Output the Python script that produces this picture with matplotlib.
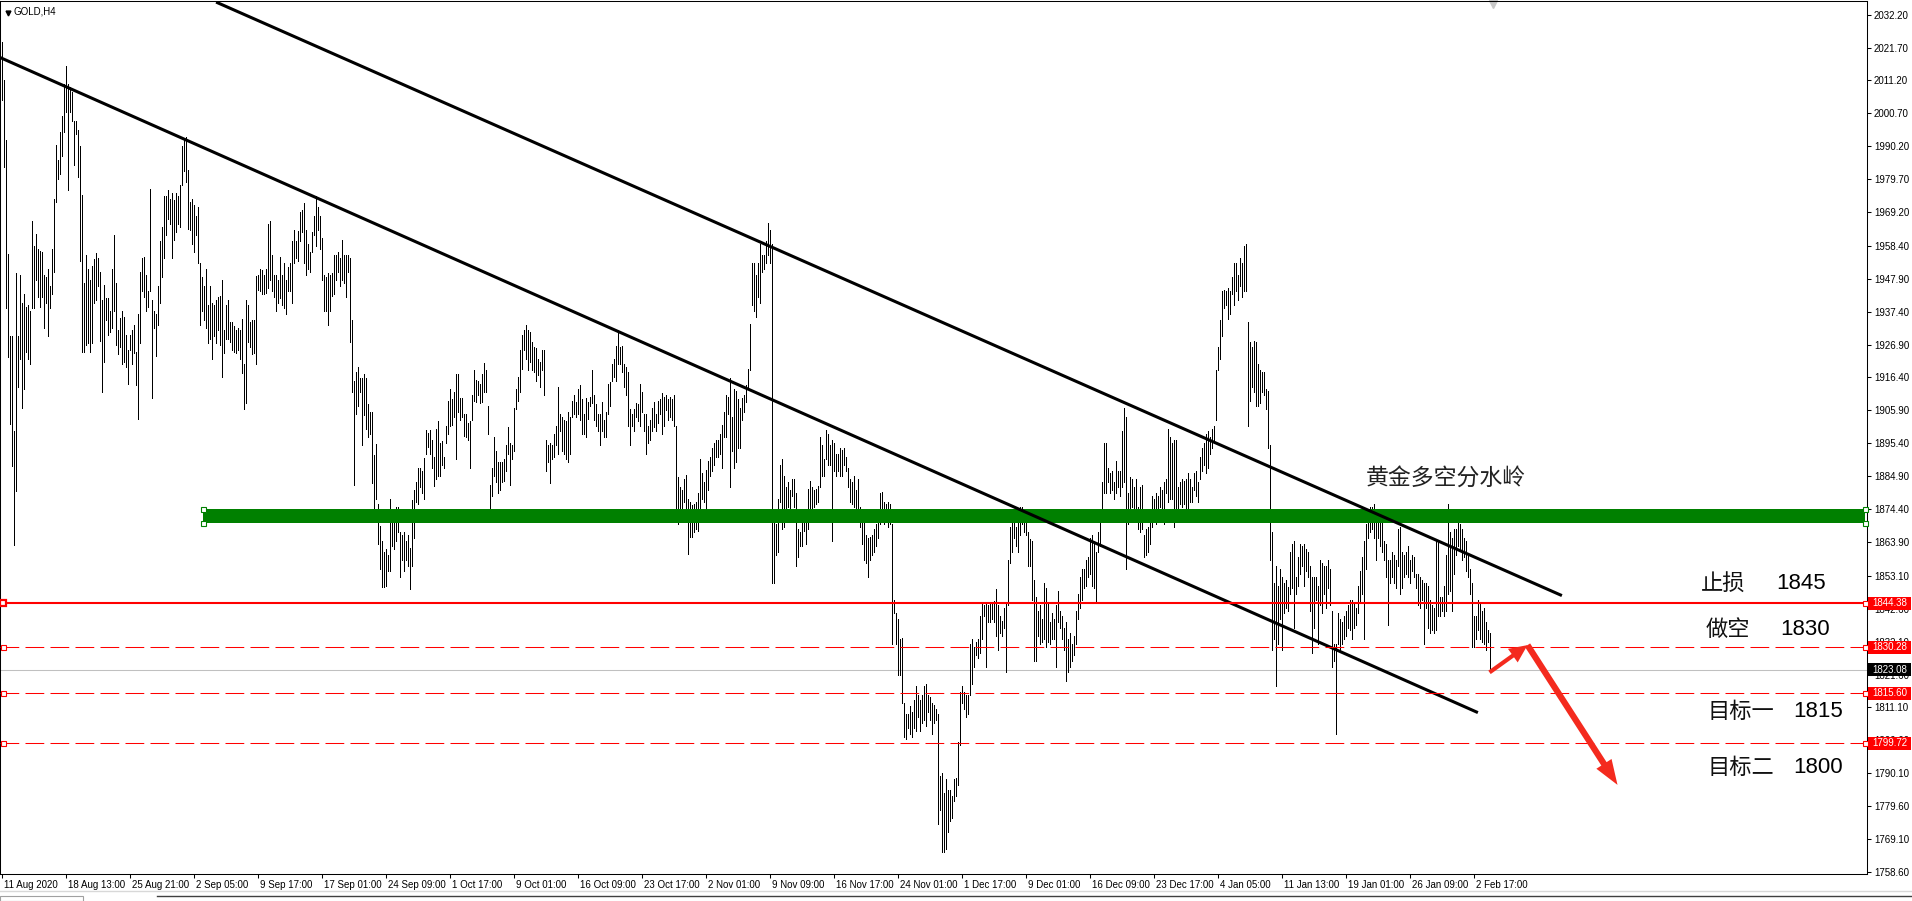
import matplotlib
matplotlib.use("Agg")
import matplotlib.pyplot as plt
import matplotlib.transforms as mtransforms
from matplotlib.patches import Rectangle, FancyArrowPatch
from matplotlib.lines import Line2D

# GOLD H4 bars, high / low (one entry per bar)
highs = [
    2023.5, 2011.3, 1992.2, 1955.9, 1929.6, 1929.6, 1899.2, 1949.6, 1929.6, 1949.2,
    1940.3, 1943.0, 1938.9, 1939.4, 1937.6, 1966.2, 1958.2, 1962.1, 1957.3, 1956.9,
    1956.4, 1949.2, 1948.4, 1951.0, 1945.7, 1957.3, 1973.4, 1990.7, 1985.9, 1994.8,
    1999.7, 2010.0, 2015.8, 2010.0, 2009.1, 2007.4, 1998.4, 1998.4, 1995.4, 1990.4,
    1974.6, 1946.6, 1955.5, 1951.0, 1947.5, 1951.9, 1954.3, 1956.0, 1954.6, 1950.1,
    1941.2, 1946.0, 1941.7, 1941.7, 1937.6, 1951.0, 1961.8, 1946.6, 1931.4, 1935.3,
    1937.6, 1935.8, 1929.9, 1925.1, 1929.9, 1931.4, 1933.2, 1924.6, 1936.7, 1950.1,
    1954.6, 1955.0, 1949.2, 1943.9, 1976.4, 1941.2, 1937.6, 1936.7, 1945.7, 1960.0,
    1964.4, 1974.3, 1974.3, 1976.1, 1973.4, 1975.2, 1972.9, 1975.2, 1974.3, 1977.9,
    1990.4, 1992.2, 1993.1, 1982.7, 1972.5, 1973.4, 1971.6, 1968.0, 1970.7, 1952.8,
    1948.4, 1945.7, 1951.0, 1939.4, 1945.7, 1940.3, 1939.4, 1941.2, 1942.1, 1942.5,
    1947.5, 1931.4, 1939.4, 1941.2, 1934.1, 1934.1, 1932.8, 1931.4, 1932.3, 1931.4,
    1935.0, 1920.6, 1941.2, 1939.4, 1934.1, 1934.6, 1934.6, 1948.9, 1949.2, 1951.0,
    1950.7, 1949.2, 1951.0, 1965.3, 1966.2, 1955.5, 1949.2, 1949.2, 1947.5, 1955.0,
    1949.2, 1952.8, 1947.5, 1951.8, 1952.8, 1960.0, 1963.5, 1960.0, 1963.2, 1969.3,
    1969.8, 1972.1, 1963.5, 1959.1, 1956.4, 1962.7, 1968.0, 1974.3, 1970.7, 1968.0,
    1960.9, 1949.2, 1948.4, 1949.6, 1949.2, 1949.6, 1955.5, 1955.5, 1956.4, 1954.6,
    1960.3, 1955.5, 1955.5, 1955.5, 1954.6, 1934.6, 1915.3, 1918.0, 1919.7, 1916.2,
    1916.2, 1917.4, 1916.2, 1907.8, 1905.5, 1905.5, 1891.7, 1895.3, 1875.9, 1869.1,
    1864.3, 1860.8, 1861.7, 1859.9, 1877.7,
    1874.2, 1874.5, 1875.1, 1875.1, 1867.0, 1866.1, 1867.0, 1864.3, 1866.1, 1862.0,
    1877.2, 1880.4, 1883.1, 1887.6, 1887.6, 1886.7, 1890.6, 1899.6, 1898.8, 1899.6,
    1896.5, 1891.1, 1900.1, 1902.4, 1895.6, 1896.2, 1891.1, 1901.0, 1909.0, 1912.6,
    1909.6, 1911.7, 1917.4, 1917.4, 1909.9, 1909.9, 1904.9, 1904.9, 1901.9, 1902.4,
    1910.8, 1918.9, 1915.6, 1915.3, 1914.4, 1917.4, 1921.0, 1918.9, 1907.2, 1882.2,
    1887.6, 1897.4, 1892.9, 1889.4, 1889.4, 1889.4, 1890.3, 1894.7, 1900.6, 1895.6,
    1894.7, 1906.7, 1912.6, 1916.7, 1925.1, 1929.9, 1931.4, 1933.2, 1931.7, 1931.0,
    1927.8, 1926.0, 1925.7, 1922.4, 1921.5, 1925.1, 1925.1, 1896.5, 1894.7, 1895.6,
    1894.7, 1898.3, 1901.0, 1913.5, 1904.6, 1903.7, 1902.8, 1902.4, 1905.5, 1903.7,
    1909.0, 1910.8, 1908.5, 1912.6, 1913.9, 1909.6, 1904.6, 1909.9, 1908.5, 1910.3,
    1918.9, 1910.8, 1907.8, 1904.9, 1904.6, 1908.5, 1902.8, 1905.5, 1914.4, 1914.9,
    1920.6, 1922.4, 1926.4, 1931.7, 1926.0, 1926.4, 1920.6, 1919.7, 1918.0, 1906.3,
    1904.6, 1906.3, 1908.1, 1907.8, 1914.4, 1911.7, 1904.9, 1904.6, 1901.0, 1902.8,
    1906.7, 1908.5, 1904.6, 1909.0, 1909.6, 1911.3, 1910.3, 1910.8, 1909.6, 1910.3,
    1909.6, 1910.8, 1901.0, 1884.5, 1881.3, 1880.4, 1884.0, 1885.2, 1877.7, 1876.8,
    1875.6, 1875.9, 1876.8, 1879.5, 1890.3, 1885.8, 1883.1, 1887.0, 1889.9, 1891.1,
    1893.8, 1895.6, 1896.5, 1896.5, 1898.3, 1901.3, 1905.5, 1910.8, 1910.3, 1916.2,
    1903.7, 1912.6, 1912.1, 1909.6, 1906.7, 1909.9, 1910.8, 1913.9, 1919.2, 1933.5,
    1952.8, 1952.8, 1949.2, 1952.8, 1959.1, 1955.5, 1955.5, 1960.0, 1965.7, 1963.5,
    1959.1, 1870.6, 1869.7, 1877.7, 1888.5, 1890.3, 1884.9, 1881.3, 1883.1, 1880.4,
    1884.0, 1884.0, 1879.5, 1867.9, 1867.0, 1871.5, 1872.7, 1873.8, 1880.9, 1883.5,
    1881.3, 1880.4, 1880.9, 1881.7, 1897.4, 1894.7, 1890.3, 1899.6, 1898.3, 1894.7,
    1896.5, 1895.6, 1892.0, 1892.0, 1893.8, 1893.4, 1893.8, 1891.1, 1887.6, 1884.0,
    1883.1, 1884.9, 1880.4, 1884.0, 1875.1, 1870.6, 1870.6, 1866.1, 1865.2, 1865.6,
    1866.1, 1867.9, 1869.7, 1870.2, 1879.5, 1879.9, 1876.8, 1875.9, 1876.8, 1875.9,
    1869.7, 1845.5, 1841.1, 1839.3, 1833.0, 1833.4, 1812.5, 1808.9, 1808.9, 1811.6,
    1809.8, 1813.4, 1817.8, 1815.2, 1813.4, 1815.2, 1817.8, 1818.7, 1815.2, 1814.3,
    1812.5, 1812.0, 1810.7, 1808.9, 1789.2, 1790.1, 1783.8, 1788.3, 1784.7, 1784.7,
    1783.0, 1788.3, 1788.7, 1800.0, 1816.1, 1817.8, 1816.1, 1815.2, 1815.2, 1831.3,
    1833.0, 1830.4, 1832.1, 1833.0, 1840.2, 1844.7, 1843.8, 1844.7, 1843.8, 1844.7,
    1844.7, 1845.2, 1848.8, 1843.8, 1840.2, 1838.8, 1842.9, 1844.7, 1858.1, 1868.8,
    1871.5, 1872.4, 1868.8, 1871.5, 1875.1, 1875.1, 1874.2, 1873.3, 1867.0, 1864.9,
    1864.3, 1851.8, 1846.4, 1841.9, 1843.8, 1839.3, 1850.9, 1849.1, 1844.7, 1838.4,
    1841.1, 1839.3, 1843.8, 1848.2, 1841.9, 1840.2, 1836.6, 1838.4, 1833.0, 1834.8,
    1831.3, 1833.9, 1841.9, 1847.3, 1852.7, 1855.4, 1855.4, 1858.1, 1859.0, 1865.2,
    1866.1, 1864.3, 1860.8, 1867.0, 1870.6, 1883.1, 1895.6, 1895.6, 1887.6, 1885.8,
    1886.7, 1883.1, 1889.9, 1886.7, 1886.7, 1899.2, 1906.7, 1903.7, 1879.5, 1884.5,
    1884.0, 1881.3, 1884.0, 1875.1, 1881.3, 1882.2, 1866.1, 1867.9, 1868.8, 1873.3,
    1878.6, 1877.7, 1879.5, 1878.6, 1881.3, 1880.4, 1883.1, 1884.0, 1900.1, 1897.4,
    1895.6, 1896.5, 1896.5, 1881.3, 1883.1, 1884.0, 1883.5, 1884.0, 1885.8, 1884.0,
    1881.3, 1885.8, 1886.7, 1883.1, 1891.1, 1893.8, 1895.6, 1898.3, 1899.2, 1897.4,
    1900.1, 1901.0, 1918.9, 1926.0, 1934.9, 1943.9, 1944.3, 1943.9, 1944.8, 1943.9,
    1948.4, 1952.8, 1952.8, 1949.2, 1954.6, 1952.8, 1958.2, 1959.1, 1934.1, 1927.8,
    1926.0, 1928.2, 1927.8, 1920.6, 1918.9, 1918.0, 1918.0, 1912.6, 1912.1, 1894.7,
    1867.0, 1850.9, 1856.3, 1850.0, 1855.4, 1852.7, 1850.9, 1851.8, 1849.5, 1860.8,
    1863.4, 1864.3, 1852.7, 1859.0, 1863.4, 1862.5, 1863.4, 1861.7, 1860.8, 1856.3,
    1852.7, 1852.7, 1852.7, 1850.0, 1858.1, 1857.2, 1856.3, 1856.3, 1858.1, 1855.4,
    1841.9, 1831.3, 1831.3, 1841.1, 1839.3, 1838.4, 1840.2, 1841.9, 1843.8, 1845.5,
    1845.5, 1844.7, 1842.9, 1850.0, 1854.5, 1859.0, 1864.3, 1869.7, 1873.3, 1875.1,
    1875.1, 1876.0, 1874.2, 1873.3, 1873.3, 1870.6, 1864.3, 1863.4, 1858.1, 1858.1,
    1860.8, 1859.9, 1858.1, 1867.9, 1868.8, 1860.8, 1859.9, 1860.8, 1862.5, 1858.1,
    1859.9, 1859.0, 1853.6, 1853.6, 1852.7, 1851.8, 1850.9, 1850.9, 1850.0, 1845.5,
    1843.8, 1842.9, 1864.3, 1864.3, 1846.4, 1846.4, 1850.0, 1859.9, 1876.0, 1867.0,
    1865.2, 1867.9, 1867.9, 1872.4, 1869.7, 1867.9, 1865.2, 1864.3, 1859.9, 1855.4,
    1850.9, 1840.2, 1840.2, 1845.5, 1844.7, 1841.9, 1842.9, 1838.4, 1835.7, 1834.8,
]
lows = [
    2005.0, 1983.6, 1938.5, 1922.8, 1901.5, 1888.1, 1862.9, 1880.1, 1913.5, 1922.4,
    1906.7, 1912.6, 1924.6, 1922.4, 1920.6, 1938.5, 1938.5, 1947.5, 1942.1, 1938.9,
    1942.1, 1932.3, 1940.3, 1929.6, 1938.5, 1943.0, 1950.1, 1972.5, 1979.6, 1981.4,
    1987.2, 1994.8, 2001.1, 1976.1, 2001.1, 1998.4, 1984.1, 1994.0, 1980.5, 1953.7,
    1924.6, 1924.6, 1926.9, 1927.4, 1924.6, 1927.4, 1940.3, 1941.2, 1945.7, 1928.1,
    1911.7, 1921.5, 1934.9, 1929.9, 1931.0, 1932.3, 1937.6, 1926.9, 1923.9, 1926.0,
    1920.6, 1921.5, 1919.7, 1914.4, 1925.1, 1920.6, 1924.2, 1913.9, 1903.1, 1927.4,
    1943.9, 1942.1, 1937.6, 1938.9, 1943.9, 1909.9, 1932.3, 1923.3, 1933.2, 1940.3,
    1948.4, 1954.6, 1961.8, 1967.1, 1965.3, 1954.6, 1960.3, 1962.7, 1965.3, 1964.4,
    1977.9, 1982.3, 1978.8, 1963.9, 1963.5, 1959.1, 1956.4, 1961.8, 1952.8, 1933.2,
    1937.6, 1934.9, 1932.3, 1927.4, 1928.7, 1922.4, 1929.6, 1927.4, 1931.4, 1926.9,
    1916.7, 1924.2, 1928.7, 1928.7, 1927.8, 1925.1, 1924.6, 1924.2, 1925.1, 1922.4,
    1917.9, 1906.3, 1908.1, 1927.8, 1926.0, 1923.9, 1924.2, 1920.6, 1944.3, 1943.9,
    1943.0, 1943.0, 1943.5, 1944.8, 1947.5, 1943.9, 1942.1, 1937.6, 1940.3, 1941.7,
    1939.4, 1938.5, 1936.7, 1943.9, 1943.9, 1940.3, 1952.8, 1954.6, 1953.7, 1960.0,
    1962.7, 1952.8, 1949.2, 1951.0, 1950.1, 1956.4, 1961.8, 1958.2, 1963.5, 1957.3,
    1947.5, 1937.6, 1937.6, 1933.2, 1937.6, 1942.5, 1943.0, 1947.5, 1950.1, 1945.7,
    1947.5, 1946.6, 1942.1, 1950.1, 1927.8, 1911.7, 1882.2, 1904.9, 1907.2, 1911.7,
    1894.7, 1904.5, 1900.1, 1897.4, 1898.3, 1882.7, 1873.8, 1877.7, 1863.4, 1855.4,
    1849.5, 1849.5, 1850.0, 1854.5, 1854.5,
    1862.5, 1861.6, 1864.3, 1867.0, 1852.7, 1858.1, 1854.5, 1858.1, 1856.3, 1848.8,
    1856.3, 1865.2, 1876.8, 1875.9, 1881.3, 1879.5, 1877.7, 1892.0, 1894.2, 1892.0,
    1887.6, 1881.7, 1884.0, 1884.9, 1884.9, 1888.5, 1887.6, 1895.6, 1898.3, 1901.0,
    1901.3, 1903.7, 1890.3, 1905.5, 1902.8, 1903.7, 1897.8, 1897.4, 1896.5, 1887.6,
    1902.8, 1909.0, 1908.5, 1910.8, 1908.1, 1908.5, 1911.7, 1911.7, 1898.3, 1873.3,
    1878.6, 1884.9, 1883.1, 1879.5, 1880.4, 1883.1, 1883.5, 1886.7, 1892.0, 1882.2,
    1890.3, 1892.9, 1906.3, 1909.0, 1911.7, 1919.2, 1925.1, 1922.4, 1918.9, 1921.5,
    1918.9, 1918.0, 1915.3, 1917.1, 1913.5, 1918.9, 1910.8, 1886.7, 1889.4, 1882.7,
    1890.3, 1891.1, 1894.7, 1892.0, 1899.2, 1892.9, 1892.0, 1890.3, 1889.4, 1892.0,
    1903.7, 1904.6, 1903.7, 1904.6, 1902.8, 1898.3, 1898.3, 1897.4, 1903.1, 1907.2,
    1908.1, 1902.8, 1901.0, 1899.2, 1894.7, 1899.2, 1897.4, 1897.4, 1904.6, 1907.2,
    1915.3, 1916.7, 1915.3, 1920.6, 1920.6, 1918.0, 1913.5, 1910.8, 1901.0, 1894.7,
    1901.0, 1899.2, 1903.7, 1902.4, 1901.0, 1905.5, 1899.2, 1892.0, 1895.6, 1896.5,
    1899.2, 1900.6, 1899.2, 1901.9, 1904.6, 1898.3, 1901.0, 1906.0, 1902.8, 1903.7,
    1902.8, 1901.0, 1873.3, 1869.7, 1874.2, 1874.5, 1876.8, 1874.2, 1860.2, 1865.6,
    1865.6, 1867.0, 1867.9, 1867.4, 1872.7, 1877.7, 1876.8, 1873.8, 1880.4, 1884.9,
    1886.7, 1888.5, 1891.1, 1891.1, 1892.0, 1887.6, 1897.4, 1897.4, 1904.6, 1881.3,
    1892.9, 1887.6, 1889.4, 1893.8, 1893.8, 1902.8, 1905.5, 1908.5, 1913.5, 1918.9,
    1939.4, 1937.6, 1935.8, 1942.1, 1940.3, 1950.1, 1951.0, 1952.8, 1955.5, 1952.8,
    1850.9, 1850.9, 1859.9, 1860.8, 1876.8, 1867.9, 1868.8, 1874.2, 1875.1, 1873.3,
    1878.6, 1875.1, 1856.3, 1859.0, 1862.5, 1862.5, 1867.4, 1863.4, 1867.9, 1874.2,
    1873.8, 1875.1, 1875.9, 1876.8, 1881.3, 1884.9, 1884.9, 1890.3, 1888.5, 1888.5,
    1864.3, 1886.7, 1884.9, 1886.7, 1884.9, 1884.9, 1888.5, 1886.7, 1881.3, 1876.8,
    1875.9, 1875.1, 1870.6, 1872.7, 1868.8, 1863.4, 1858.1, 1857.2, 1852.7, 1858.1,
    1859.9, 1860.8, 1862.5, 1865.2, 1869.7, 1872.7, 1869.7, 1870.6, 1868.8, 1869.7,
    1831.3, 1841.1, 1831.3, 1821.4, 1821.4, 1812.5, 1801.8, 1800.9, 1804.4, 1802.6,
    1801.8, 1804.4, 1803.5, 1808.0, 1803.5, 1806.2, 1807.1, 1805.3, 1809.8, 1807.1,
    1802.6, 1806.2, 1807.1, 1774.0, 1778.5, 1765.1, 1765.1, 1766.0, 1771.3, 1774.9,
    1775.8, 1781.2, 1783.0, 1786.5, 1799.1, 1812.5, 1810.7, 1808.0, 1808.9, 1815.2,
    1818.7, 1824.1, 1827.7, 1826.8, 1828.6, 1833.0, 1840.2, 1824.1, 1838.4, 1838.4,
    1839.3, 1838.4, 1833.9, 1829.5, 1834.8, 1833.9, 1836.6, 1822.3, 1843.8, 1857.2,
    1860.8, 1865.2, 1862.5, 1860.8, 1866.1, 1869.7, 1867.0, 1866.1, 1856.3, 1856.3,
    1845.5, 1825.9, 1825.9, 1833.9, 1831.3, 1832.1, 1833.0, 1830.4, 1832.1, 1831.3,
    1833.0, 1833.0, 1824.1, 1838.4, 1836.6, 1833.0, 1829.5, 1819.6, 1822.3, 1824.1,
    1825.9, 1827.7, 1831.3, 1839.3, 1842.9, 1845.5, 1849.1, 1850.0, 1852.7, 1853.6,
    1850.0, 1849.1, 1844.7, 1860.8, 1862.5, 1874.2, 1879.5, 1879.5, 1883.1, 1879.5,
    1880.4, 1877.7, 1879.5, 1881.3, 1878.6, 1881.3, 1883.1, 1855.4, 1869.7, 1873.3,
    1875.1, 1872.4, 1873.3, 1867.9, 1867.0, 1867.9, 1859.0, 1859.9, 1860.8, 1863.4,
    1868.8, 1872.4, 1869.7, 1870.6, 1875.1, 1871.5, 1869.7, 1879.5, 1876.8, 1877.7,
    1877.7, 1868.8, 1872.4, 1872.4, 1875.9, 1875.1, 1875.9, 1872.4, 1871.5, 1876.8,
    1876.8, 1880.4, 1878.6, 1876.8, 1884.0, 1886.7, 1888.5, 1885.8, 1887.6, 1892.0,
    1893.8, 1895.6, 1902.8, 1918.9, 1922.4, 1929.6, 1938.5, 1939.4, 1935.0, 1936.7,
    1943.0, 1939.4, 1943.9, 1941.2, 1945.7, 1942.1, 1943.9, 1943.9, 1901.0, 1909.0,
    1913.5, 1911.7, 1907.2, 1907.2, 1908.1, 1911.7, 1910.8, 1906.3, 1893.8, 1858.1,
    1829.5, 1833.0, 1817.8, 1831.3, 1839.3, 1829.5, 1841.1, 1842.9, 1842.0, 1847.3,
    1849.1, 1836.6, 1847.3, 1850.0, 1853.6, 1856.3, 1850.0, 1854.5, 1852.7, 1842.0,
    1828.6, 1836.6, 1845.5, 1831.3, 1843.8, 1841.1, 1847.3, 1842.9, 1849.1, 1843.8,
    1824.1, 1825.9, 1802.6, 1831.3, 1829.5, 1831.3, 1833.0, 1833.9, 1836.6, 1835.7,
    1833.0, 1836.6, 1837.5, 1841.1, 1844.7, 1847.3, 1833.0, 1855.4, 1865.2, 1867.0,
    1867.9, 1865.2, 1858.1, 1865.2, 1862.5, 1860.8, 1858.1, 1852.7, 1837.5, 1850.9,
    1852.7, 1850.9, 1849.1, 1856.3, 1847.3, 1849.1, 1852.7, 1853.6, 1852.7, 1850.9,
    1854.5, 1852.7, 1849.1, 1843.8, 1842.9, 1845.5, 1831.3, 1842.9, 1836.6, 1834.8,
    1835.7, 1834.8, 1835.7, 1840.2, 1840.2, 1842.0, 1840.2, 1842.0, 1847.3, 1848.2,
    1842.0, 1853.6, 1859.9, 1862.5, 1861.6, 1858.1, 1859.0, 1854.5, 1852.7, 1847.3,
    1830.4, 1830.4, 1833.0, 1835.7, 1833.0, 1832.1, 1831.3, 1829.5, 1832.1, 1822.3,
]

time_labels = [
    "11 Aug 2020", "18 Aug 13:00", "25 Aug 21:00", "2 Sep 05:00", "9 Sep 17:00",
    "17 Sep 01:00", "24 Sep 09:00", "1 Oct 17:00", "9 Oct 01:00", "16 Oct 09:00",
    "23 Oct 17:00", "2 Nov 01:00", "9 Nov 09:00", "16 Nov 17:00", "24 Nov 01:00",
    "1 Dec 17:00", "9 Dec 01:00", "16 Dec 09:00", "23 Dec 17:00", "4 Jan 05:00",
    "11 Jan 13:00", "19 Jan 01:00", "26 Jan 09:00", "2 Feb 17:00",
]
bars_per_label = 32

price_ticks = [
    2032.20, 2021.70, 2011.20, 2000.70, 1990.20, 1979.70, 1969.20, 1958.40,
    1947.90, 1937.40, 1926.90, 1916.40, 1905.90, 1895.40, 1884.90, 1874.40,
    1863.90, 1853.10, 1842.60, 1832.10, 1821.60, 1811.10, 1800.60, 1790.10,
    1779.60, 1769.10, 1758.60,
]

stop_loss = 1844.38
short_entry = 1830.28
bid_price = 1823.08
target_one = 1815.60
target_two = 1799.72

zone_low = 1870.0
zone_high = 1874.4
zone_start = 101

# trend lines: (bar index, price) end points
upper_line_x = [108.0, 779.5]
upper_line_y = [2036.0, 1847.0]
lower_line_x = [-0.5, 737.5]
lower_line_y = [2018.45, 1809.66]

arrow_turn = (763, 1831.0)
arrow_end = (808, 1786.4)

title_text = "黄金多空分水岭"
title_x, title_y = 682.3, 1884.3
note_names = ["止损", "做空", "目标一", "目标二"]
note_values = ["1845", "1830", "1815", "1800"]
note_y = [1850.8, 1836.1, 1809.7, 1792.1]
note_name_x = [849.8, 851.8, 852.8, 852.8]
note_value_x = [887.6, 889.3, 895.8, 895.8]

# ---- layout ----
W, H = 1912, 901
PLOT_W, PLOT_H = 1867, 873
Y_MIN, Y_MAX = 1757.96, 2036.54
px_per_price = PLOT_H / (Y_MAX - Y_MIN)

zh = ["Noto Sans CJK SC", "DejaVu Sans"]
small = "Liberation Sans"
plt.rcParams["font.family"] = zh

fig = plt.figure(figsize=(W / 100, H / 100), dpi=100, facecolor="white")
ax = fig.add_axes([0, (H - 874) / H, PLOT_W / W, PLOT_H / H])
x_max = PLOT_W / 2 - 0.75
ax.set_xlim(-0.75, x_max)
ax.set_ylim(Y_MIN, Y_MAX)
ax.set_facecolor("white")

n = len(highs)
# one pixel wide bars, two pixels apart, like the terminal draws them
ax.vlines(range(n), lows, highs, colors="black", linewidth=0.5,
          antialiased=False, zorder=3)

# support / resistance zone
ax.add_patch(Rectangle((zone_start - 0.5, zone_low), x_max - 0.6 - zone_start,
                       zone_high - zone_low, facecolor="#008000",
                       edgecolor="none", zorder=4))
for zx in (zone_start - 0.5, x_max - 1.1):
    ax.plot([zx, zx], [zone_high, zone_low], "s", ms=3.6, mfc="white",
            mec="#008000", mew=0.8, zorder=5, clip_on=False)

# trend lines
ax.plot(upper_line_x, upper_line_y, color="black", lw=2.2, zorder=5)
ax.plot(lower_line_x, lower_line_y, color="black", lw=2.2, zorder=5)

# level lines
ax.axhline(bid_price, color="#c0c0c0", lw=0.75, zorder=2)
ax.axhline(stop_loss, color="red", lw=1.5, zorder=6)
for lvl in (short_entry, target_one, target_two):
    ax.axhline(lvl, color="red", lw=0.75, dashes=(18, 6), zorder=6)
ax.plot([0.8], [stop_loss], "s", ms=4.2, mfc="white", mec="red", mew=1.6,
        zorder=7, clip_on=False)
ax.plot([0.8, 0.8, 0.8], [short_entry, target_one, target_two], "s", ms=3.6,
        mfc="white", mec="red", mew=0.8, zorder=7, clip_on=False)
ax.plot([x_max - 1.1] * 4, [stop_loss, short_entry, target_one, target_two],
        "s", ms=3.6, mfc="white", mec="red", mew=0.8, zorder=7, clip_on=False)

# arrows
arrow_red = "#f42a1e"
ax.add_patch(FancyArrowPatch((n - 1, lows[-1]), arrow_turn,
                             arrowstyle="simple,head_length=1.3,head_width=1.2,tail_width=0.3",
                             mutation_scale=10, color=arrow_red, lw=0,
                             shrinkA=0, shrinkB=0, zorder=8))
ax.add_patch(FancyArrowPatch(arrow_turn, arrow_end,
                             arrowstyle="simple,head_length=1.8,head_width=1.3,tail_width=0.45",
                             mutation_scale=10, color=arrow_red, lw=0,
                             shrinkA=0, shrinkB=0, zorder=8))

# annotations
ax.text(title_x, title_y, title_text, fontsize=16.5, family=zh, color="#222222",
        ha="left", va="center", zorder=9)
for name, val, ny, nx, vx in zip(note_names, note_values, note_y,
                                 note_name_x, note_value_x):
    ax.text(nx, ny, name, fontsize=16, family=zh, color="#111111",
            ha="left", va="center", zorder=9)
    ax.text(vx, ny, val, fontsize=16, family=small, color="black",
            ha="left", va="center", zorder=9)

# axes styling
for s in ax.spines.values():
    s.set_color("black")
    s.set_linewidth(0.75)

tick_pos = list(range(0, n, bars_per_label))[:len(time_labels)]
ax.set_xticks(tick_pos)
ax.set_xticklabels(time_labels, fontsize=7, family=small)
ax.tick_params(axis="x", direction="out", length=3, width=0.75, pad=1.5)
shift = mtransforms.ScaledTranslation(2 / 100, 0, fig.dpi_scale_trans)
for lab in ax.get_xticklabels():
    lab.set_horizontalalignment("left")
    lab.set_transform(lab.get_transform() + shift)

ax.yaxis.tick_right()
ax.set_yticks(price_ticks)
ax.set_yticklabels([f"{p:.2f}" for p in price_ticks], fontsize=7, family=small)
ax.tick_params(axis="y", direction="out", length=3, width=0.75, pad=2)

# price tags on the right scale
yt = ax.get_yaxis_transform()
tag_h = 13 / px_per_price
for price, col in ((stop_loss, "red"), (short_entry, "red"), (bid_price, "black"),
                   (target_one, "red"), (target_two, "red")):
    ax.add_patch(Rectangle((1.0 + 1 / PLOT_W, price - tag_h / 2), 43 / PLOT_W, tag_h,
                           transform=yt, facecolor=col, edgecolor="none",
                           clip_on=False, zorder=20))
    ax.text(1.0 + 22.5 / PLOT_W, price, f"{price:.2f}", transform=yt, color="white",
            fontsize=7, family=small, ha="center", va="center",
            clip_on=False, zorder=21)

# chart caption and shift marker
ax.text(13 / PLOT_W, 1 - 11 / PLOT_H, "GOLD,H4", transform=ax.transAxes,
        fontsize=7, family=small, color="black", ha="left", va="center")
ax.plot([7.5 / PLOT_W], [1 - 11.5 / PLOT_H], marker="v", ms=3.5, color="black",
        transform=ax.transAxes)
ax.plot([1493 / PLOT_W], [1 - 3 / PLOT_H], marker="v", ms=6, color="#c8c8c8",
        transform=ax.transAxes, clip_on=False)

# tab strip at the bottom
fig.add_artist(Line2D([0, 1], [1 - 891 / H] * 2, color="#d8d8d8", lw=1,
                      transform=fig.transFigure))
fig.add_artist(Line2D([157 / W, 1], [1 - 896 / H] * 2, color="#404040", lw=1,
                      transform=fig.transFigure))
fig.add_artist(Rectangle((0, 0), 83 / W, 1 - 896 / H, fill=False,
                         edgecolor="#a0a0a0", lw=0.8, transform=fig.transFigure))

fig.savefig("out.png", dpi=100, facecolor="white")
